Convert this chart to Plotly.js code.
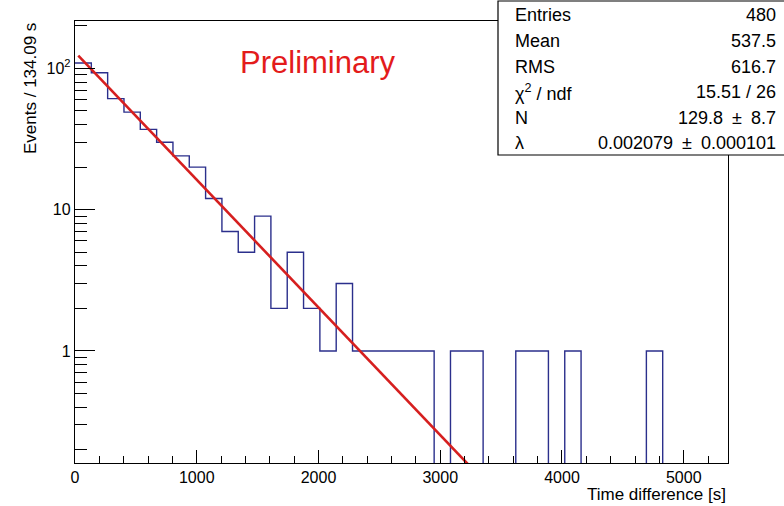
<!DOCTYPE html>
<html><head><meta charset="utf-8">
<script src="https://cdn.plot.ly/plotly-3.0.1.min.js"></script>
<style>html,body{margin:0;padding:0;background:#fff}#chart{width:784px;height:506px}</style>
</head><body><div id="chart"></div>
<script>
// ---- data ----
const binWidth = 134.09;
const binCounts = [109, 93, 61, 49, 37, 30, 24, 20, 12, 7,
                   5, 9, 2, 5, 2, 1, 3, 1, 1, 1,
                   1, 1, 0, 1, 1, 0, 0, 1, 1, 0,
                   1, 0, 0, 0, 0, 1, 0, 0, 0, 0];
const fitT = [27, 3300];        // fit curve endpoints (s)
const fitY = [123, 0.136];      // fit curve values at those endpoints
const xTickVals = [0, 1000, 2000, 3000, 4000, 5000];
const xTickText = ['0', '1000', '2000', '3000', '4000', '5000'];
const yTickVals = [1, 10, 100];
const yTickText = ['1', '10', '10<sup>2</sup>'];
const PM = '\u2002\u00B1\u2002';
const statLabels = ['Entries', 'Mean', 'RMS', '\u03C7<sup>2</sup> / ndf', 'N', '\u03BB'];
const statValues = ['480', '537.5', '616.7', '15.51 / 26', '129.8' + PM + '8.7', '0.002079' + PM + '0.000101'];
const xTitle = 'Time difference [s]';
const yTitle = 'Events / 134.09 s';
const watermark = 'Preliminary';

// ---- build histogram outline ----
const nBins = binCounts.length;
const floorVal = 1e-3; // empty bins drawn below the visible range (log axis)
const hx = [], hy = [];
for (let i = 0; i < nBins; i++) {
  hx.push(i * binWidth);
  hy.push(binCounts[i] > 0 ? binCounts[i] : floorVal);
}
hx.push(nBins * binWidth);
hy.push(binCounts[nBins - 1] > 0 ? binCounts[nBins - 1] : floorVal);

const L = 75, R = 728, T = 21, B = 463;
const px = x => (x - L) / (R - L);
const py = y => (B - y) / (B - T);
const FONT = 'Liberation Sans, Arial, Helvetica, sans-serif';

const minorY = [];
[0.1, 1, 10, 100].forEach(d => { for (let k = 2; k <= 9; k++) minorY.push(d * k); });

const traces = [
  {x: hx, y: hy, type: 'scatter', mode: 'lines', line: {shape: 'hv', color: '#2b2f8c', width: 1.4},
   hoverinfo: 'skip', showlegend: false},
  {x: fitT, y: fitY, type: 'scatter', mode: 'lines', line: {color: '#d61f1f', width: 2.6},
   hoverinfo: 'skip', showlegend: false}
];

const annotations = [
  {text: watermark, xref: 'paper', yref: 'paper', x: px(238), y: py(62), xanchor: 'left', yanchor: 'middle',
   showarrow: false, font: {family: FONT, size: 31, color: '#e31b1b'}},
  {text: xTitle, xref: 'paper', yref: 'paper', x: px(728), y: py(494), xanchor: 'right', yanchor: 'middle',
   showarrow: false, font: {family: FONT, size: 17, color: '#000'}},
  {text: yTitle, xref: 'paper', yref: 'paper', x: px(30), y: py(89), xanchor: 'center', yanchor: 'middle',
   textangle: -90, showarrow: false, font: {family: FONT, size: 17, color: '#000'}}
];
const rowY = [15, 41, 67, 92, 118, 143];
statLabels.forEach((s, i) => {
  annotations.push({text: s, xref: 'paper', yref: 'paper', x: px(513), y: py(rowY[i]), xanchor: 'left', yanchor: 'middle',
    showarrow: false, font: {family: FONT, size: 18, color: '#000'}});
  annotations.push({text: statValues[i], xref: 'paper', yref: 'paper', x: px(778), y: py(rowY[i]), xanchor: 'right', yanchor: 'middle',
    showarrow: false, font: {family: FONT, size: 18, color: '#000'}});
});

const layout = {
  width: 784, height: 506,
  margin: {l: L, r: 784 - R, t: T, b: 506 - B, pad: 0},
  paper_bgcolor: '#fff', plot_bgcolor: '#fff',
  showlegend: false,
  xaxis: {
    range: [0, nBins * binWidth], showgrid: false, zeroline: false,
    showline: true, linecolor: '#000', linewidth: 1.2, mirror: true,
    tickmode: 'array', tickvals: xTickVals, ticktext: xTickText,
    ticks: 'inside', ticklen: 13, tickwidth: 1, tickcolor: '#000',
    tickfont: {family: FONT, size: 16, color: '#000'},
    minor: {ticks: 'inside', ticklen: 7, tickwidth: 1, tickcolor: '#000', dtick: 200, tick0: 0, showgrid: false}
  },
  yaxis: {
    type: 'log', range: [-0.793, 2.335], showgrid: false, zeroline: false,
    showline: true, linecolor: '#000', linewidth: 1.2, mirror: true,
    tickmode: 'array', tickvals: yTickVals, ticktext: yTickText,
    ticks: 'inside', ticklen: 20, tickwidth: 1, tickcolor: '#000',
    tickfont: {family: FONT, size: 16, color: '#000'},
    minor: {tickmode: 'array', tickvals: minorY, ticks: 'inside', ticklen: 12, tickwidth: 1, tickcolor: '#000', showgrid: false}
  },
  shapes: [
    {type: 'rect', xref: 'paper', yref: 'paper', x0: px(498), x1: px(800), y0: py(155), y1: py(1),
     fillcolor: '#fff', line: {color: '#000', width: 1.2}, layer: 'above'}
  ],
  annotations: annotations
};

Plotly.newPlot('chart', traces, layout, {staticPlot: true, displayModeBar: false});
</script>
</body></html>
